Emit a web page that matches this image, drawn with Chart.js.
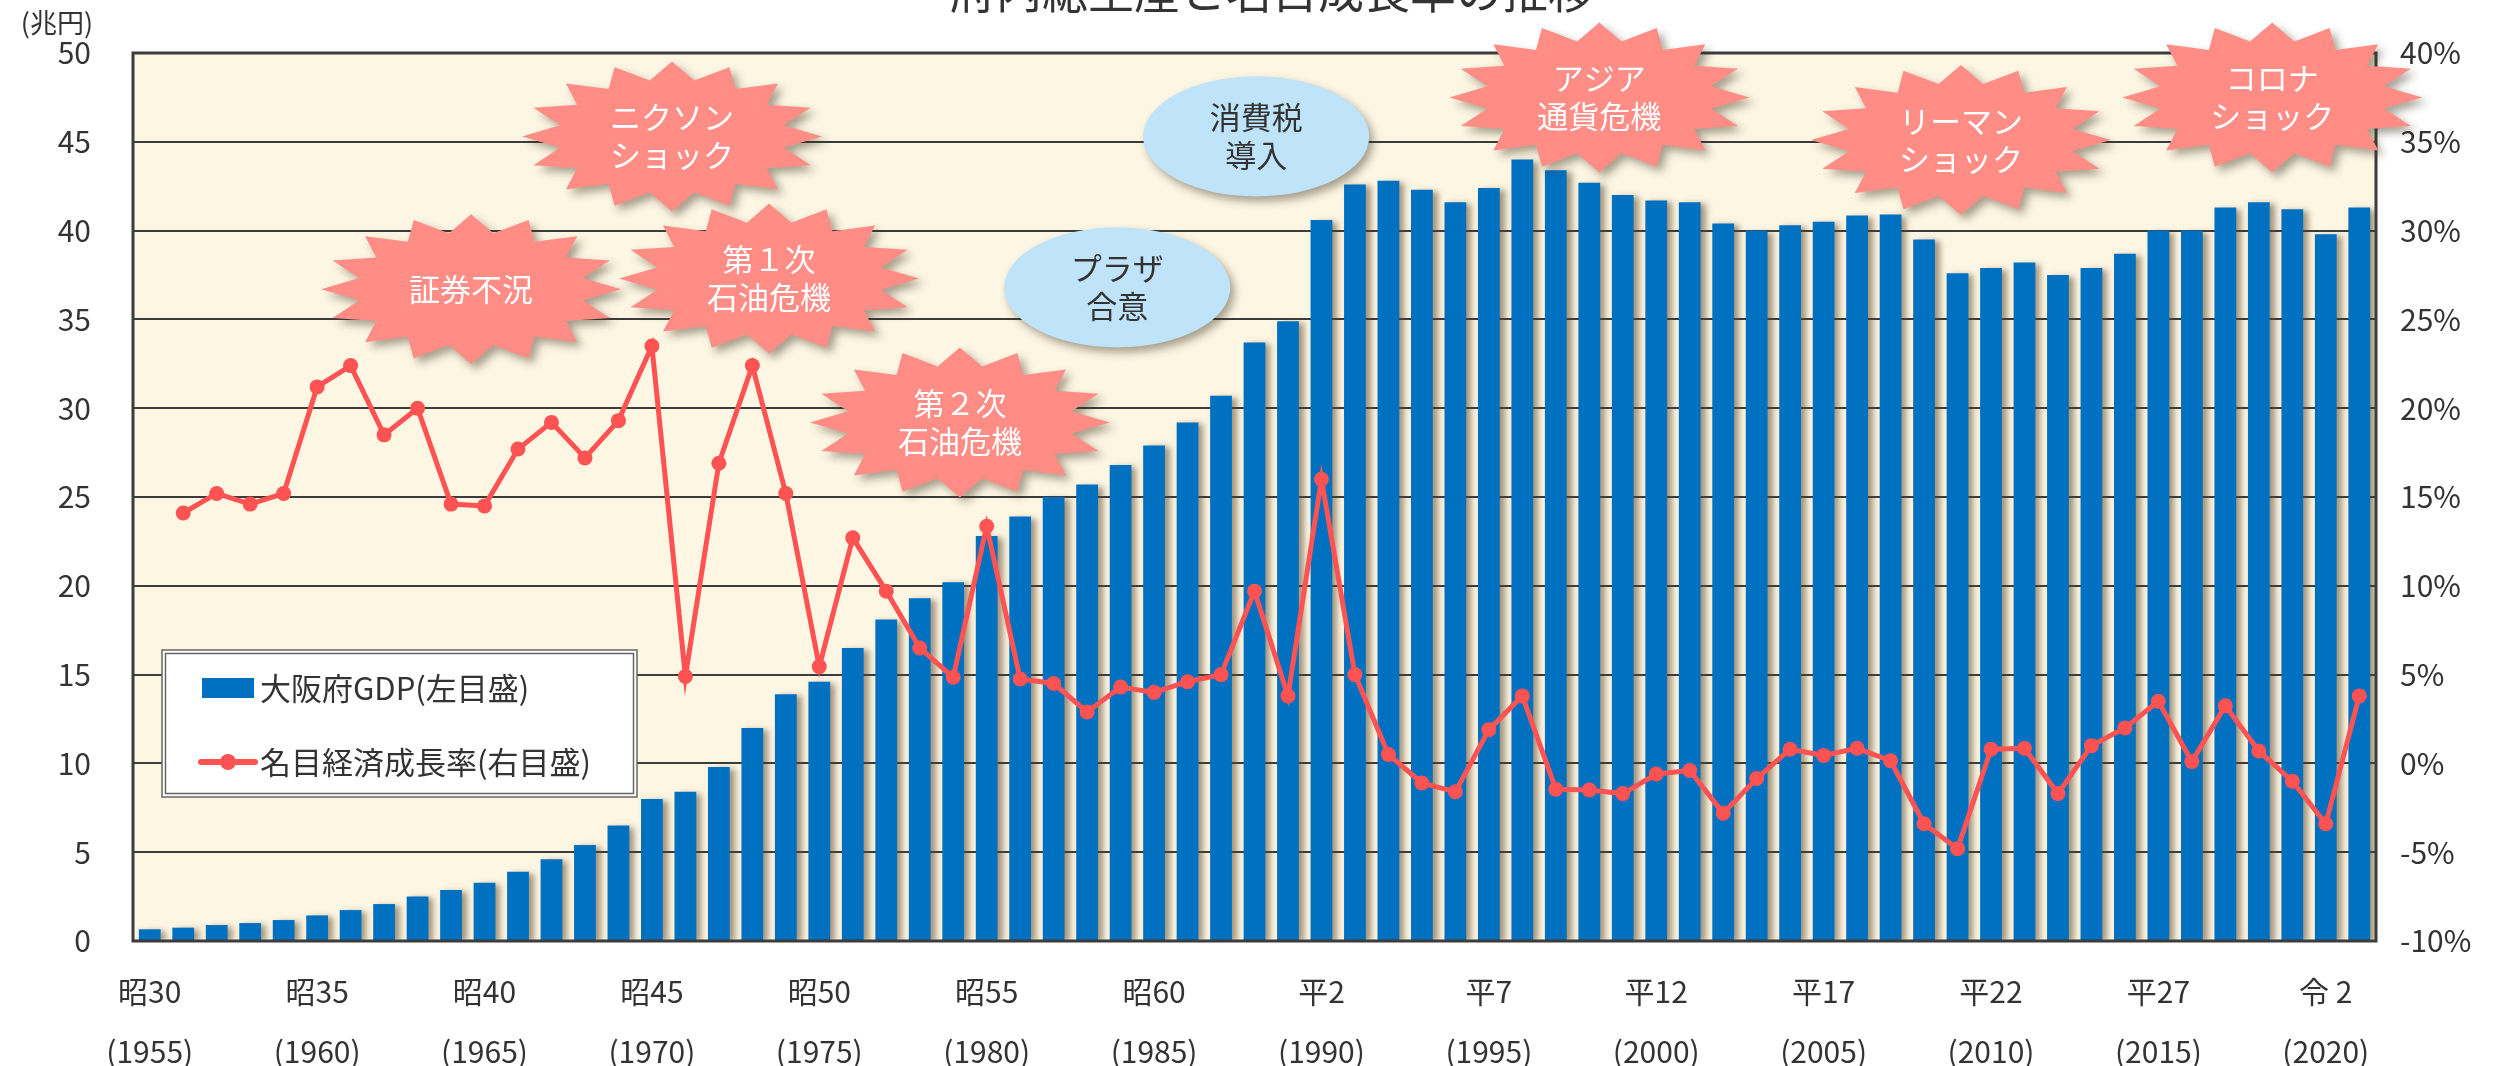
<!DOCTYPE html>
<html lang="ja">
<head>
<meta charset="UTF-8">
<title>府内総生産と名目成長率の推移</title>
<script src="https://cdn.jsdelivr.net/npm/chart.js@4.4.1/dist/chart.umd.min.js"></script>
<style>
  html, body { margin: 0; padding: 0; background: #fff; }
  #wrap { position: relative; width: 2506px; height: 1066px; }
</style>
</head>
<body>
<div id="wrap"><canvas id="gdpChart" width="2506" height="1066"></canvas></div>
<script>
// --- Data ---
const years = [
    1955, 1956, 1957, 1958, 1959, 1960, 1961, 1962, 1963, 1964,
    1965, 1966, 1967, 1968, 1969, 1970, 1971, 1972, 1973, 1974,
    1975, 1976, 1977, 1978, 1979, 1980, 1981, 1982, 1983, 1984,
    1985, 1986, 1987, 1988, 1989, 1990, 1991, 1992, 1993, 1994,
    1995, 1996, 1997, 1998, 1999, 2000, 2001, 2002, 2003, 2004,
    2005, 2006, 2007, 2008, 2009, 2010, 2011, 2012, 2013, 2014,
    2015, 2016, 2017, 2018, 2019, 2020, 2021
];

// 大阪府GDP (兆円)
const gdp = [
    0.66, 0.75, 0.9, 1.01, 1.18, 1.44, 1.74, 2.08, 2.51, 2.87,
    3.28, 3.9, 4.6, 5.4, 6.5, 8.0, 8.4, 9.8, 12.0, 13.9,
    14.6, 16.5, 18.1, 19.3, 20.2, 22.8, 23.9, 25.0, 25.7, 26.8,
    27.9, 29.2, 30.7, 33.7, 34.9, 40.6, 42.6, 42.8, 42.3, 41.6,
    42.4, 44.0, 43.4, 42.7, 42.0, 41.7, 41.6, 40.4, 40.0, 40.3,
    40.5, 40.85, 40.9, 39.5, 37.6, 37.9, 38.2, 37.5, 37.9, 38.7,
    40.0, 40.0, 41.3, 41.6, 41.2, 39.8, 41.3
];

// 名目経済成長率 (%)
const growth = [
    null, 14.1, 15.2, 14.6, 15.2, 21.2, 22.4, 18.5, 20.0, 14.6,
    14.5, 17.7, 19.2, 17.2, 19.3, 23.5, 4.9, 16.9, 22.4, 15.2,
    5.45, 12.7, 9.7, 6.5, 4.85, 13.35, 4.75, 4.5, 2.9, 4.3,
    4.0, 4.6, 5.0, 9.7, 3.8, 16.0, 5.0, 0.5, -1.1, -1.6,
    1.9, 3.8, -1.45, -1.5, -1.7, -0.6, -0.4, -2.8, -0.85, 0.8,
    0.45, 0.85, 0.15, -3.4, -4.8, 0.8, 0.85, -1.7, 1.0, 2.0,
    3.5, 0.1, 3.25, 0.7, -1.0, -3.4, 3.8
];

// x tick labels (every five years)
const tickYears = [1955, 1960, 1965, 1970, 1975, 1980, 1985, 1990, 1995, 2000, 2005, 2010, 2015, 2020];
const tickEras = ['昭30', '昭35', '昭40', '昭45', '昭50', '昭55', '昭60', '平2', '平7', '平12', '平17', '平22', '平27', '令 2'];

// event call-outs, anchored at (year, left-axis value)
const burstLabels = [['証券不況'], ['ニクソン', 'ショック'], ['第１次', '石油危機'], ['第２次', '石油危機'],
    ['アジア', '通貨危機'], ['リーマン', 'ショック'], ['コロナ', 'ショック']];
const burstYears = [1964.6, 1970.6, 1973.5, 1979.2, 1998.3, 2009.1, 2018.4];
const burstValues = [36.7, 45.3, 37.3, 29.2, 47.5, 45.1, 47.5];

const bubbleLabels = [['プラザ', '合意'], ['消費税', '導入']];
const bubbleYears = [1983.9, 1988.05];
const bubbleValues = [36.8, 45.3];

const FONT = "'Noto Sans CJK JP', 'Noto Sans', sans-serif";
const TEXT = '#333333';
const GRID = '#3c3c3c';

Chart.defaults.font.family = FONT;
Chart.defaults.color = TEXT;

// --- helpers ---
function starPath(ctx, cx, cy, rx, ry, points, inner) {
    ctx.beginPath();
    for (let i = 0; i < points * 2; i++) {
        const a = -Math.PI / 2 + i * Math.PI / points;
        const k = i % 2 === 0 ? 1 : inner;
        const px = cx + Math.cos(a) * rx * k;
        const py = cy + Math.sin(a) * ry * k;
        if (i === 0) ctx.moveTo(px, py); else ctx.lineTo(px, py);
    }
    ctx.closePath();
}

function drawLines(ctx, lines, cx, cy, color) {
    ctx.fillStyle = color;
    ctx.font = `31px ${FONT}`;
    ctx.textAlign = 'center';
    ctx.textBaseline = 'middle';
    const step = 38;
    lines.forEach((t, i) => {
        ctx.fillText(t, cx, cy + (i - (lines.length - 1) / 2) * step);
    });
}

// cream plot background + frame
const plotBackground = {
    id: 'plotBackground',
    beforeDraw(chart) {
        const { ctx, chartArea: a } = chart;
        ctx.save();
        ctx.fillStyle = '#fdf6e3';
        ctx.fillRect(a.left, a.top, a.right - a.left, a.bottom - a.top);
        ctx.restore();
    },
    afterDraw(chart) {
        const { ctx, chartArea: a } = chart;
        ctx.save();
        ctx.strokeStyle = GRID;
        ctx.lineWidth = 3;
        ctx.strokeRect(a.left, a.top, a.right - a.left, a.bottom - a.top);
        ctx.restore();
    }
};

// soft shadow behind the bars
const barShadow = {
    id: 'barShadow',
    beforeDatasetDraw(chart, args) {
        if (args.meta.type !== 'bar') return;
        const ctx = chart.ctx;
        ctx.save();
        ctx.shadowColor = 'rgba(90, 70, 40, 0.55)';
        ctx.shadowBlur = 6;
        ctx.shadowOffsetX = 5;
        ctx.shadowOffsetY = 2;
    },
    afterDatasetDraw(chart, args) {
        if (args.meta.type !== 'bar') return;
        chart.ctx.restore();
    }
};

// starbursts and ellipses for events
const callouts = {
    id: 'callouts',
    afterDraw(chart) {
        const { ctx, scales: { x, y } } = chart;
        ctx.save();
        bubbleLabels.forEach((lines, i) => {
            const cx = x.getPixelForValue(bubbleYears[i] - years[0]);
            const cy = y.getPixelForValue(bubbleValues[i]);
            ctx.save();
            ctx.shadowColor = 'rgba(60, 50, 30, 0.45)';
            ctx.shadowBlur = 8;
            ctx.shadowOffsetX = 4;
            ctx.shadowOffsetY = 5;
            ctx.fillStyle = '#bfe3f9';
            ctx.beginPath();
            ctx.ellipse(cx, cy, 113, 60, 0, 0, Math.PI * 2);
            ctx.fill();
            ctx.restore();
            drawLines(ctx, lines, cx, cy, TEXT);
        });
        burstLabels.forEach((lines, i) => {
            const cx = x.getPixelForValue(burstYears[i] - years[0]);
            const cy = y.getPixelForValue(burstValues[i]);
            ctx.save();
            ctx.shadowColor = 'rgba(60, 50, 30, 0.45)';
            ctx.shadowBlur = 8;
            ctx.shadowOffsetX = 5;
            ctx.shadowOffsetY = 5;
            ctx.fillStyle = '#ff8d86';
            starPath(ctx, cx, cy, 150, 75, 16, 0.76);
            ctx.fill();
            ctx.restore();
            drawLines(ctx, lines, cx, cy, '#ffffff');
        });
        ctx.restore();
    }
};

// title (cut off at the top edge), unit label and boxed legend
const extraText = {
    id: 'extraText',
    afterDraw(chart) {
        const ctx = chart.ctx;
        ctx.save();
        ctx.fillStyle = TEXT;
        ctx.font = `46px ${FONT}`;
        ctx.textAlign = 'center';
        ctx.textBaseline = 'alphabetic';
        ctx.fillText('府内総生産と名目成長率の推移', 1272, 8);

        ctx.font = `27px ${FONT}`;
        ctx.textBaseline = 'middle';
        ctx.fillText('(兆円)', 57, 23);

        // legend box
        const lx = 162, ly = 650, lw = 475, lh = 147;
        ctx.fillStyle = '#ffffff';
        ctx.fillRect(lx, ly, lw, lh);
        ctx.strokeStyle = '#666666';
        ctx.lineWidth = 1.5;
        ctx.strokeRect(lx, ly, lw, lh);
        ctx.strokeRect(lx + 3.5, ly + 3.5, lw - 7, lh - 7);

        const ds = chart.data.datasets;
        const barSet = ds.find(d => d.type === 'bar');
        const lineSet = ds.find(d => d.type === 'line');
        ctx.fillStyle = barSet.backgroundColor;
        ctx.fillRect(202, 678, 52, 20);

        ctx.strokeStyle = lineSet.borderColor;
        ctx.lineWidth = 6;
        ctx.lineCap = 'round';
        ctx.beginPath();
        ctx.moveTo(201, 762);
        ctx.lineTo(255, 762);
        ctx.stroke();
        ctx.fillStyle = lineSet.borderColor;
        ctx.beginPath();
        ctx.arc(228, 762, 8, 0, Math.PI * 2);
        ctx.fill();

        ctx.fillStyle = TEXT;
        ctx.font = `31px ${FONT}`;
        ctx.textAlign = 'left';
        ctx.fillText(barSet.label, 260, 688);
        ctx.fillText(lineSet.label, 260, 762);
        ctx.restore();
    }
};

const ctx = document.getElementById('gdpChart').getContext('2d');
new Chart(ctx, {
    type: 'bar',
    data: {
        labels: years.map(String),
        datasets: [
            {
                type: 'line',
                label: '名目経済成長率(右目盛)',
                data: growth,
                yAxisID: 'y1',
                borderColor: '#ff5252',
                backgroundColor: '#ff5252',
                borderWidth: 5,
                pointRadius: 7.5,
                pointBorderWidth: 0,
                pointBackgroundColor: '#ff5252',
                tension: 0,
                order: 0
            },
            {
                type: 'bar',
                label: '大阪府GDP(左目盛)',
                data: gdp,
                yAxisID: 'y',
                backgroundColor: '#0070c0',
                barPercentage: 0.65,
                categoryPercentage: 1.0,
                order: 1
            }
        ]
    },
    options: {
        responsive: false,
        animation: false,
        devicePixelRatio: 1,
        layout: { padding: { top: 53, left: 0, right: 0, bottom: 0 } },
        plugins: {
            legend: { display: false },
            title: { display: false },
            tooltip: { enabled: false }
        },
        scales: {
            x: {
                grid: { display: false, drawTicks: false },
                border: { display: false },
                ticks: {
                    autoSkip: false,
                    maxRotation: 0,
                    minRotation: 0,
                    padding: 21,
                    color: TEXT,
                    font: { size: 30, lineHeight: 2.0 },
                    callback: (value, index) => {
                        const k = tickYears.indexOf(years[index]);
                        return k < 0 ? '' : [tickEras[k], `(${years[index]})`];
                    }
                },
                afterFit: (scale) => { scale.height = 125; }
            },
            y: {
                position: 'left',
                min: 0,
                max: 50,
                // invisible tick marks hold the label gap, so the top padding stays small
                grid: { color: GRID, lineWidth: 2, drawTicks: true, tickLength: 40, tickColor: 'rgba(0,0,0,0)' },
                border: { display: false },
                ticks: { stepSize: 5, padding: 2, color: TEXT, font: { size: 30 } },
                afterFit: (scale) => { scale.width = 133; }
            },
            y1: {
                position: 'right',
                min: -10,
                max: 40,
                grid: { display: false, drawOnChartArea: false, drawTicks: true, tickLength: 22, tickColor: 'rgba(0,0,0,0)' },
                border: { display: false },
                ticks: {
                    stepSize: 5,
                    padding: 2,
                    color: TEXT,
                    font: { size: 30 },
                    callback: (v) => `${v}%`
                },
                afterFit: (scale) => { scale.width = 130; }
            }
        }
    },
    plugins: [plotBackground, barShadow, callouts, extraText]
});
</script>
</body>
</html>
